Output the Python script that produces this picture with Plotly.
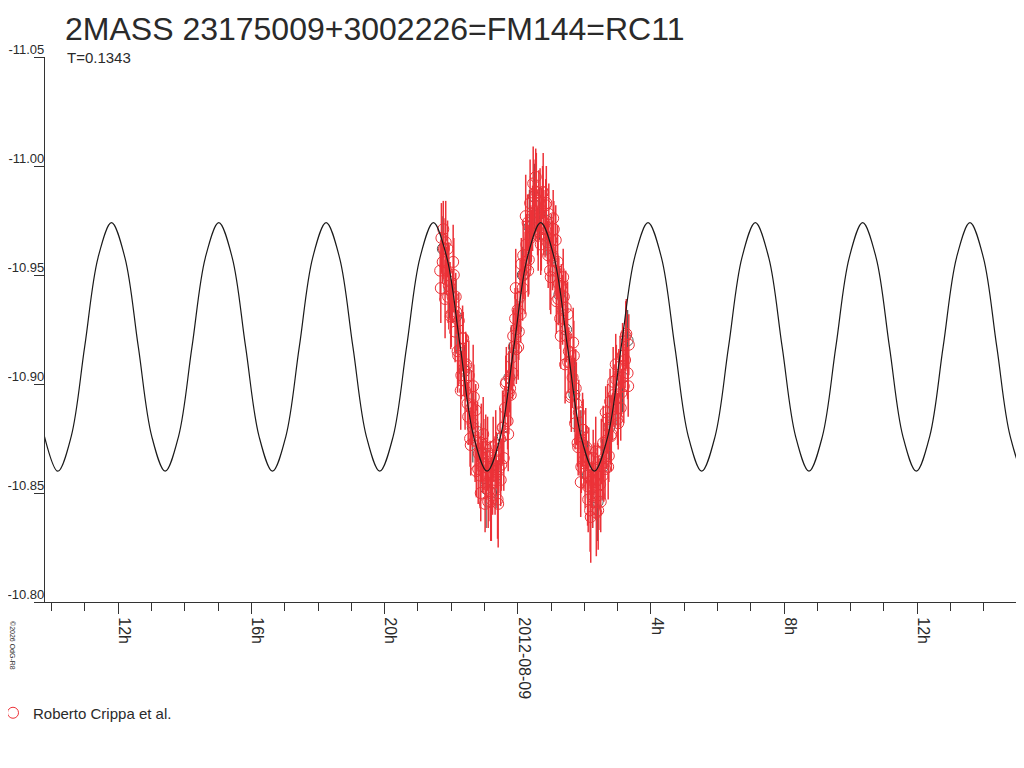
import pandas as pd
import plotly.graph_objects as go

# ---------------- data ----------------
BASE = pd.Timestamp("2012-08-09 00:00:00")

# model light curve (hours relative to 2012-08-09 00:00, magnitude)
curve_hours = [
    -14.217, -13.814, -13.412, -13.009, -12.606, -12.203, -11.800, -11.397,
    -10.994, -10.591, -10.188, -9.785, -9.383, -8.980, -8.577, -8.174,
    -7.771, -7.368, -6.965, -6.562, -6.159, -5.756, -5.354, -4.951,
    -4.548, -4.145, -3.742, -3.339, -2.936, -2.533, -2.130, -1.727,
    -1.325, -0.922, -0.519, -0.116, 0.287, 0.690, 1.093, 1.496,
    1.899, 2.302, 2.705, 3.107, 3.510, 3.913, 4.316, 4.719,
    5.122, 5.525, 5.928, 6.331, 6.734, 7.136, 7.539, 7.942,
    8.345, 8.748, 9.151, 9.554, 9.957, 10.360, 10.763, 11.165,
    11.568, 11.971, 12.374, 12.777, 13.180, 13.583, 13.986, 14.389,
    14.792, 15.194, 15.597,
]
curve_mag = [
    -10.876, -10.860, -10.876, -10.917, -10.958, -10.974, -10.958, -10.917,
    -10.876, -10.860, -10.876, -10.917, -10.958, -10.974, -10.958, -10.917,
    -10.876, -10.860, -10.876, -10.917, -10.958, -10.974, -10.958, -10.917,
    -10.876, -10.860, -10.876, -10.917, -10.958, -10.974, -10.958, -10.917,
    -10.876, -10.860, -10.876, -10.917, -10.958, -10.974, -10.958, -10.917,
    -10.876, -10.860, -10.876, -10.917, -10.958, -10.974, -10.958, -10.917,
    -10.876, -10.860, -10.876, -10.917, -10.958, -10.974, -10.958, -10.917,
    -10.876, -10.860, -10.876, -10.917, -10.958, -10.974, -10.958, -10.917,
    -10.876, -10.860, -10.876, -10.917, -10.958, -10.974, -10.958, -10.917,
    -10.876, -10.860, -10.876,
]

# observations: Roberto Crippa et al.
obs_hours = [
    -2.330, -2.293, -2.255, -2.218, -2.183, -2.146, -2.108, -2.071,
    -2.033, -1.996, -1.958, -1.921, -1.882, -1.845, -1.807, -1.770,
    -1.732, -1.695, -1.657, -1.620, -1.582, -1.545, -1.507, -1.470,
    -1.432, -1.395, -1.357, -1.320, -1.281, -1.244, -1.206, -1.169,
    -1.131, -1.094, -1.056, -1.019, -0.981, -0.944, -0.906, -0.869,
    -0.831, -0.794, -0.756, -0.719, -0.681, -0.644, -0.606, -0.569,
    -0.531, -0.494, -0.456, -0.419, -0.380, -0.343, -0.305, -0.268,
    -0.230, -0.193, -0.155, -0.118, -0.080, -0.043, -0.005, 0.032,
    0.070, 0.107, 0.145, 0.182, 0.220, 0.257, 0.295, 0.332,
    0.371, 0.408, 0.446, 0.483, 0.521, 0.558, 0.596, 0.633,
    0.671, 0.708, 0.746, 0.783, 0.821, 0.858, 0.896, 0.933,
    0.971, 1.008, 1.046, 1.083, 1.122, 1.159, 1.197, 1.234,
    1.272, 1.309, 1.347, 1.384, 1.422, 1.459, 1.497, 1.534,
    1.572, 1.609, 1.647, 1.684, 1.722, 1.759, 1.797, 1.834,
    1.872, 1.909, 1.947, 1.984, 2.023, 2.060, 2.098, 2.135,
    2.173, 2.210, 2.248, 2.285, 2.323, 2.360, 2.398, 2.435,
    2.473, 2.510, 2.548, 2.585, 2.623, 2.660, 2.698, 2.735,
    2.773, 2.810, 2.848, 2.885, 2.924, 2.961, 2.999, 3.036,
    3.074, 3.111, 3.149, 3.186, 3.224, 3.261, 3.299, 3.336,
    -2.311, -2.237, -2.164, -2.090, -2.014, -1.940, -1.863, -1.789,
    -1.713, -1.639, -1.563, -1.489, -1.413, -1.339, -1.262, -1.188,
    -1.112, -1.038, -0.962, -0.888, -0.812, -0.738, -0.662, -0.588,
    -0.512, -0.438, -0.361, -0.287, -0.211, -0.137, -0.061, 0.013,
    0.089, 0.163, 0.239, 0.313, 0.390, 0.464, 0.540, 0.614,
    0.690, 0.764, 0.840, 0.914, 0.990, 1.064, 1.141, 1.215,
    1.291, 1.365, 1.441, 1.515, 1.591, 1.665, 1.741, 1.815,
    1.891, 1.965, 2.042, 2.116, 2.192, 2.266, 2.342, 2.416,
    2.492, 2.566, 2.642, 2.716, 2.792, 2.866, 2.943, 3.017,
    3.093, 3.167, 3.243, 3.317,
]
obs_mag = [
    -10.952, -10.967, -10.956, -10.962, -10.939, -10.952, -10.962, -10.945,
    -10.947, -10.932, -10.940, -10.950, -10.924, -10.933, -10.915, -10.929,
    -10.916, -10.904, -10.921, -10.907, -10.897, -10.909, -10.891, -10.904,
    -10.875, -10.889, -10.882, -10.894, -10.874, -10.860, -10.878, -10.868,
    -10.858, -10.873, -10.862, -10.868, -10.845, -10.858, -10.868, -10.851,
    -10.862, -10.847, -10.855, -10.865, -10.856, -10.865, -10.847, -10.861,
    -10.875, -10.863, -10.880, -10.866, -10.889, -10.901, -10.883, -10.896,
    -10.898, -10.912, -10.905, -10.917, -10.930, -10.916, -10.934, -10.924,
    -10.940, -10.955, -10.944, -10.950, -10.951, -10.964, -10.974, -10.957,
    -10.983, -10.968, -10.976, -10.986, -10.979, -10.988, -10.970, -10.984,
    -10.983, -10.971, -10.988, -10.974, -10.971, -10.983, -10.965, -10.978,
    -10.952, -10.966, -10.959, -10.971, -10.952, -10.938, -10.956, -10.946,
    -10.930, -10.945, -10.934, -10.940, -10.909, -10.922, -10.932, -10.915,
    -10.910, -10.895, -10.903, -10.913, -10.882, -10.891, -10.873, -10.887,
    -10.874, -10.862, -10.879, -10.865, -10.859, -10.871, -10.853, -10.866,
    -10.842, -10.856, -10.849, -10.861, -10.855, -10.841, -10.859, -10.849,
    -10.854, -10.869, -10.858, -10.864, -10.861, -10.874, -10.884, -10.867,
    -10.892, -10.877, -10.885, -10.895, -10.893, -10.902, -10.884, -10.898,
    -10.908, -10.896, -10.913, -10.899, -10.911, -10.923, -10.905, -10.918,
    -10.944, -10.971, -10.965, -10.940, -10.931, -10.956, -10.940, -10.913,
    -10.897, -10.921, -10.908, -10.885, -10.872, -10.899, -10.888, -10.861,
    -10.850, -10.877, -10.871, -10.846, -10.846, -10.871, -10.872, -10.845,
    -10.856, -10.880, -10.900, -10.877, -10.895, -10.922, -10.944, -10.917,
    -10.932, -10.959, -10.977, -10.952, -10.967, -10.992, -10.995, -10.968,
    -10.964, -10.988, -10.982, -10.959, -10.949, -10.976, -10.966, -10.939,
    -10.922, -10.949, -10.935, -10.910, -10.894, -10.919, -10.898, -10.871,
    -10.855, -10.879, -10.870, -10.847, -10.839, -10.866, -10.869, -10.842,
    -10.846, -10.873, -10.887, -10.862, -10.876, -10.901, -10.909, -10.882,
    -10.889, -10.913, -10.922, -10.899,
]
obs_err = [
    0.012, 0.016, 0.010, 0.014, 0.018, 0.011, 0.013, 0.020,
    0.009, 0.015, 0.012, 0.017, 0.014, 0.010, 0.019, 0.013,
    0.016, 0.011, 0.015, 0.012, 0.018, 0.014, 0.010, 0.016,
    0.013, 0.017, 0.011, 0.015, 0.019, 0.012, 0.014, 0.010,
    0.015, 0.018, 0.012, 0.016, 0.013, 0.011, 0.017, 0.014,
    0.012, 0.019, 0.015, 0.010, 0.016, 0.013, 0.018, 0.011,
    0.014, 0.012, 0.017, 0.015, 0.010, 0.016, 0.013, 0.019,
    0.011, 0.015, 0.012, 0.018, 0.014, 0.016, 0.010, 0.013,
    0.017, 0.012, 0.015, 0.011, 0.019, 0.014, 0.013, 0.016,
    0.020, 0.012, 0.015, 0.017, 0.013, 0.018, 0.011, 0.014,
    0.016, 0.019, 0.012, 0.015, 0.013, 0.017, 0.010, 0.014,
    0.018, 0.012, 0.016, 0.013, 0.011, 0.015, 0.017, 0.012,
    0.014, 0.010, 0.016, 0.013, 0.018, 0.012, 0.015, 0.011,
    0.013, 0.017, 0.014, 0.016, 0.012, 0.019, 0.011, 0.015,
    0.014, 0.012, 0.017, 0.013, 0.016, 0.010, 0.018, 0.014,
    0.019, 0.013, 0.015, 0.012, 0.017, 0.020, 0.014, 0.016,
    0.012, 0.015, 0.011, 0.018, 0.014, 0.013, 0.016, 0.012,
    0.015, 0.017, 0.011, 0.014, 0.013, 0.016, 0.012, 0.018,
    0.014, 0.011, 0.015, 0.017, 0.013, 0.016, 0.012, 0.014,
    0.016, 0.013, 0.019, 0.012, 0.015, 0.017, 0.011, 0.014,
    0.018, 0.012, 0.016, 0.013, 0.014, 0.019, 0.012, 0.016,
    0.013, 0.017, 0.015, 0.012, 0.018, 0.014, 0.016, 0.020,
    0.012, 0.015, 0.013, 0.017, 0.014, 0.012, 0.018, 0.015,
    0.013, 0.016, 0.019, 0.012, 0.015, 0.017, 0.013, 0.016,
    0.014, 0.018, 0.012, 0.015, 0.017, 0.013, 0.016, 0.012,
    0.015, 0.013, 0.017, 0.014, 0.012, 0.016, 0.018, 0.013,
    0.016, 0.014, 0.019, 0.015, 0.021, 0.013, 0.016, 0.018,
    0.014, 0.017, 0.012, 0.015, 0.013, 0.016, 0.014, 0.012,
    0.015, 0.013, 0.016, 0.014,
]

# secondary (grey) measurements drawn underneath
grey_hours = [
    -2.25, -2.05, -1.85, -1.60, -1.35, -1.10, -0.95, -0.80, -0.65, -0.45,
    -0.25, -0.05, 0.15, 0.35, 0.50, 0.65, 0.85, 1.05, 1.25, 1.45,
    1.70, 1.90, 2.10, 2.25, 2.40, 2.55, 2.75, 2.95, 3.15, 3.30,
]
grey_mag = [
    -10.962, -10.943, -10.931, -10.906, -10.880, -10.868, -10.852, -10.850, -10.858, -10.876,
    -10.903, -10.925, -10.950, -10.972, -10.986, -10.978, -10.975, -10.958, -10.941, -10.925,
    -10.895, -10.876, -10.858, -10.848, -10.846, -10.862, -10.880, -10.893, -10.903, -10.920,
]
grey_err = [
    0.015, 0.013, 0.017, 0.012, 0.016, 0.014, 0.018, 0.013, 0.015, 0.012,
    0.016, 0.014, 0.013, 0.017, 0.015, 0.012, 0.016, 0.014, 0.013, 0.015,
    0.017, 0.012, 0.016, 0.014, 0.018, 0.013, 0.015, 0.012, 0.016, 0.014,
]

y_ticks = [-11.05, -11.00, -10.95, -10.90, -10.85, -10.80]
y_tick_text = ["-11.05", "-11.00", "-10.95", "-10.90", "-10.85", "-10.80"]
x_tick_hours = [-12, -8, -4, 0, 4, 8, 12]
x_tick_text = ["12h", "16h", "20h", "2012-08-09", "4h", "8h", "12h"]
x_range_hours = [-14.20, 15.206]

title_text = "2MASS 23175009+3002226=FM144=RC11"
period_text = "T=0.1343"
series_name = "Roberto Crippa et al."
credit_text = "©2026 OdG-R8"

# ---------------- helpers ----------------
def to_time(hours):
    return [BASE + pd.Timedelta(hours=h) for h in hours]

RED = "#ec3238"
TEXT = "#2a2a2a"
FONT = "Liberation Sans, Arial, sans-serif"

W, H = 1016, 760          # page body adds an 8px offset
ML, MT, MB = 37, 49, 166
PW = W - ML

fig = go.Figure()

fig.add_trace(go.Scatter(
    x=to_time(grey_hours), y=grey_mag, mode="markers",
    marker=dict(symbol="circle-open", size=11, color="#555555", line=dict(width=1)),
    error_y=dict(type="data", array=grey_err, color="#555555", thickness=1.2, width=0),
    showlegend=False, hoverinfo="skip",
))

fig.add_trace(go.Scatter(
    x=to_time(obs_hours), y=obs_mag, mode="markers", name=series_name,
    marker=dict(symbol="circle-open", size=11, color=RED, line=dict(width=1)),
    error_y=dict(type="data", array=obs_err, color=RED, thickness=1.5, width=0),
))

fig.add_trace(go.Scatter(
    x=to_time(curve_hours), y=curve_mag, mode="lines",
    line=dict(color="#1a1a1a", width=1.2, shape="spline", smoothing=1.0),
    showlegend=False, hoverinfo="skip",
))

fig.update_layout(
    width=W, height=H,
    margin=dict(l=ML, r=0, t=MT, b=MB, autoexpand=False),
    paper_bgcolor="white", plot_bgcolor="white",
    font=dict(family=FONT, color=TEXT),
    title=dict(text=title_text, x=57 / W, xanchor="left",
               y=1 - 21 / H, yanchor="middle",
               font=dict(size=32, color=TEXT, family=FONT)),
    showlegend=True,
    legend=dict(x=-ML / PW, xanchor="left", y=-(705 - 594) / 545, yanchor="middle",
                font=dict(size=15, color=TEXT), itemwidth=30, indentation=-15,
                bgcolor="rgba(0,0,0,0)", borderwidth=0),
    annotations=[
        dict(text=period_text, xref="paper", yref="paper",
             x=20 / PW, y=1.0, xanchor="left", yanchor="middle",
             showarrow=False, font=dict(size=15, color=TEXT)),
        dict(text=credit_text, xref="paper", yref="paper",
             x=-32 / PW, y=-(637 - 594) / 545, xanchor="center", yanchor="middle",
             textangle=90, showarrow=False, font=dict(size=7, color=TEXT)),
    ],
)

fig.update_xaxes(
    type="date",
    range=to_time(x_range_hours),
    tickvals=to_time(x_tick_hours), ticktext=x_tick_text,
    tickangle=90, ticks="outside", ticklen=11, tickwidth=1, tickcolor="#333333",
    ticklabelshift=6,
    tickfont=dict(size=16, color=TEXT),
    minor=dict(dtick=3600000, ticks="outside", ticklen=8, tickwidth=1, tickcolor="#333333", showgrid=False),
    showline=True, linecolor="#333333", linewidth=1.2,
    showgrid=False, zeroline=False, automargin=False,
)

fig.update_yaxes(
    range=[y_ticks[-1], y_ticks[0]],
    tickvals=y_ticks, ticktext=y_tick_text,
    ticks="outside", ticklen=10, tickwidth=1, tickcolor="#333333",
    ticklabelstandoff=-13, ticklabelshift=8,
    tickfont=dict(size=13, color=TEXT),
    showline=True, linecolor="#333333", linewidth=1.2,
    showgrid=False, zeroline=False, automargin=False,
)

fig.write_html("out.html")
